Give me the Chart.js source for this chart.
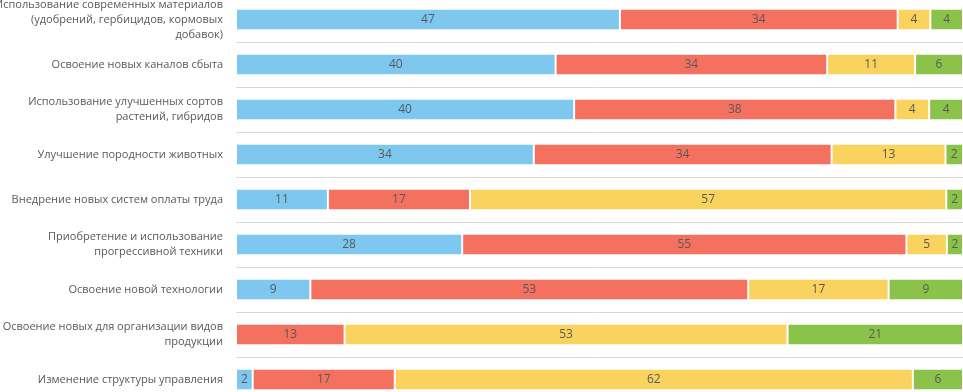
<!DOCTYPE html>
<html><head><meta charset="utf-8">
<script src="https://cdn.jsdelivr.net/npm/chart.js@4/dist/chart.umd.min.js"></script>
<style>
html,body{margin:0;padding:0;overflow:hidden;background:#fff;width:963px;height:392px}
#c{position:absolute;left:0;top:-3px}
</style>
</head><body><canvas id="c" width="963" height="405"></canvas>
<script>
const categories = [
  ["Использование современных материалов", "(удобрений, гербицидов, кормовых", "добавок)"],
  "Освоение новых каналов сбыта",
  ["Использование улучшенных сортов", "растений, гибридов"],
  "Улучшение породности животных",
  "Внедрение новых систем оплаты труда",
  ["Приобретение и использование", "прогрессивной техники"],
  "Освоение новой технологии",
  ["Освоение новых для организации видов", "продукции"],
  "Изменение структуры управления"
];
const seriesNames = ["Ряд 1", "Ряд 2", "Ряд 3", "Ряд 4"];
const series1 = [47, 40, 40, 34, 11, 28, 9, 0, 2];
const series2 = [34, 34, 38, 34, 17, 55, 53, 13, 17];
const series3 = [4, 11, 4, 13, 57, 5, 17, 53, 62];
const series4 = [4, 6, 4, 2, 2, 2, 9, 21, 6];
const seriesColors = ["#7EC8EF", "#F4705F", "#FAD35E", "#8BC34A"];

const rawSeries = [series1, series2, series3, series4];
const totals = categories.map((_, j) => rawSeries.reduce((s, arr) => s + arr[j], 0));

const labelPlugin = {
  id: 'valueLabels',
  afterDatasetsDraw(chart) {
    const ctx = chart.ctx;
    ctx.save();
    ctx.font = '12px "Open Sans"';
    ctx.fillStyle = '#595959';
    ctx.textAlign = 'center';
    ctx.textBaseline = 'middle';
    chart.data.datasets.forEach((ds, i) => {
      const meta = chart.getDatasetMeta(i);
      meta.data.forEach((bar, j) => {
        const v = rawSeries[i][j];
        if (!v) return;
        const p = bar.getProps(['x', 'base', 'y'], true);
        ctx.fillText(String(v), (p.x + p.base) / 2, p.y + 0.5);
      });
    });
    ctx.restore();
  }
};

new Chart(document.getElementById('c'), {
  type: 'bar',
  data: {
    labels: categories,
    datasets: rawSeries.map((arr, i) => ({
      label: seriesNames[i],
      data: arr.map((v, j) => v / totals[j] * 100),
      backgroundColor: seriesColors[i],
      borderColor: '#ffffff',
      borderWidth: {left: 1, right: 1, top: 0, bottom: 0},
      borderSkipped: false,
      categoryPercentage: 1,
      barPercentage: 0.445
    }))
  },
  options: {
    indexAxis: 'y',
    responsive: false,
    animation: false,
    layout: {padding: 0},
    plugins: {legend: {display: false}, tooltip: {enabled: false}},
    scales: {
      x: {stacked: true, min: 0, max: 100, display: false},
      y: {
        stacked: true,
        grid: {offset: true, color: '#D9D9D9', lineWidth: 1, drawTicks: false},
        border: {display: false},
        ticks: {autoSkip: false, padding: 13, color: '#595959', font: {family: 'Open Sans', size: 11, lineHeight: 1.36}},
        afterFit(s) { s.width = 236; s.paddingTop = 0; s.paddingBottom = 0; }
      }
    }
  },
  plugins: [labelPlugin]
});
</script>
</body></html>
